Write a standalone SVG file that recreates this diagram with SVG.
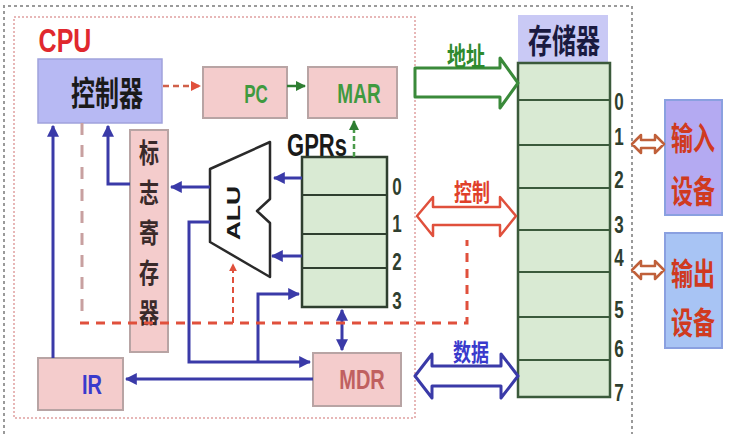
<svg xmlns="http://www.w3.org/2000/svg" width="733" height="434" viewBox="0 0 733 434">
<style>
.cjk{font-family:"Noto Sans CJK SC","Liberation Sans",sans-serif;font-weight:bold;text-anchor:middle}
.lat{font-family:"Liberation Sans",Arial,sans-serif;font-weight:bold;text-anchor:middle}
.pink{fill:#f4cccc;stroke:#b8a4a4;stroke-width:2}
.reg{fill:#d9ead3;stroke:#2f3f2f;stroke-width:2.5}
.mem{fill:#d9ead3;stroke:#3b5a3b;stroke-width:2.5}
.blue{fill:none;stroke:#3a3aa8;stroke-width:3}
.num{font-family:"Liberation Sans",Arial,sans-serif;font-weight:bold;text-anchor:middle;font-size:17px;fill:#2f3f2f}
</style>
<defs>
<marker id="ab" viewBox="0 0 10 10" refX="9" refY="5" markerWidth="4" markerHeight="4" orient="auto-start-reverse"><path d="M0,0 L10,5 L0,10 z" fill="#3a3aa8"/></marker>
<marker id="ar" viewBox="0 0 10 10" refX="9" refY="5" markerWidth="4" markerHeight="4" orient="auto"><path d="M0,0 L10,5 L0,10 z" fill="#e0503c"/></marker>
<marker id="ag" viewBox="0 0 10 10" refX="9" refY="5" markerWidth="4" markerHeight="4" orient="auto"><path d="M0,0 L10,5 L0,10 z" fill="#2e7d32"/></marker>
</defs>
<rect width="733" height="434" fill="#ffffff"/>
<!-- outer dotted frame -->
<path d="M4,434 V6 H632 V434" fill="none" stroke="#9a9a9a" stroke-width="2" stroke-dasharray="3,3"/>
<!-- CPU frame -->
<g id="cpu">
<rect x="14" y="17" width="401" height="401" fill="none" stroke="#e0a0a0" stroke-width="1.5" stroke-dasharray="2,2"/>
<text class="lat" transform="translate(65,52) scale(1,1.35)" font-size="25" fill="#e0282e" font-weight="normal">CPU</text>
</g>
<g id="controller">
<rect x="38" y="59" width="124" height="64" fill="#b7b9f3" stroke="#a0a2dc" stroke-width="1.5"/>
<text class="cjk" transform="translate(107,106) scale(1,1.4)" font-size="24" fill="#1a1a1a">控制器</text>
</g>
<g id="pc">
<rect class="pink" x="203" y="67" width="84" height="51"/>
<text class="lat" transform="translate(256,103) scale(1,1.5)" font-size="17" fill="#3f9a3f">PC</text>
</g>
<g id="mar">
<rect class="pink" x="308" y="67" width="89" height="51"/>
<text class="lat" transform="translate(359,103) scale(1,1.5)" font-size="19" fill="#3f9a3f">MAR</text>
</g>
<g id="flags">
<rect class="pink" x="130" y="130" width="38" height="222"/>
<g class="cjk" font-size="20" fill="#3a2a2a">
<text transform="translate(149,163) scale(1,1.35)">标</text>
<text transform="translate(149,203) scale(1,1.35)">志</text>
<text transform="translate(149,243) scale(1,1.35)">寄</text>
<text transform="translate(149,283) scale(1,1.35)">存</text>
<text transform="translate(149,323) scale(1,1.35)">器</text>
</g>
</g>
<g id="alu">
<path d="M210,169 L270,142 L270,199 L257,211 L270,223 L270,277 L210,242 Z" fill="#ffffff" stroke="#2a2a2a" stroke-width="2.5" stroke-linejoin="round"/>
<text class="lat" transform="translate(240,213) rotate(-90) scale(1.4,1)" font-size="19" fill="#1a1a1a">ALU</text>
</g>
<g id="gprs">
<text class="lat" transform="translate(317,156) scale(1,1.45)" font-size="22" fill="#1a1a1a">GPRs</text>
<rect class="reg" x="302" y="157" width="85" height="150"/>
<path d="M302,195 H387 M302,234 H387 M302,268 H387" stroke="#2f3f2f" stroke-width="2"/>
<text class="num" transform="translate(397,195) scale(1,1.4)">0</text>
<text class="num" transform="translate(397,232) scale(1,1.4)">1</text>
<text class="num" transform="translate(397,270) scale(1,1.4)">2</text>
<text class="num" transform="translate(397,309) scale(1,1.4)">3</text>
</g>
<g id="ir">
<rect class="pink" x="38" y="358" width="85" height="52"/>
<text class="lat" transform="translate(92,394) scale(1,1.4)" font-size="20" fill="#3a3acc">IR</text>
</g>
<g id="mdr">
<rect class="pink" x="313" y="353" width="88" height="53"/>
<text class="lat" transform="translate(362,389) scale(1,1.35)" font-size="20" fill="#c06060" font-weight="normal">MDR</text>
</g>
<g id="memory">
<rect x="518" y="15" width="90" height="48" fill="#c9c9f5"/>
<text class="cjk" transform="translate(564,53) scale(1,1.35)" font-size="24" fill="#1a1a40">存储器</text>
<rect class="mem" x="518" y="63" width="92" height="334"/>
<path d="M518,100 H610 M518,145 H610 M518,188 H610 M518,230 H610 M518,272 H610 M518,317 H610 M518,360 H610" stroke="#3b5a3b" stroke-width="2"/>
<text class="num" transform="translate(619,110) scale(1,1.4)">0</text>
<text class="num" transform="translate(619,145) scale(1,1.4)" fill="#3a9a3a">1</text>
<text class="num" transform="translate(619,188) scale(1,1.4)">2</text>
<text class="num" transform="translate(619,233) scale(1,1.4)">3</text>
<text class="num" transform="translate(619,266) scale(1,1.4)" fill="#3a9a3a">4</text>
<text class="num" transform="translate(619,318) scale(1,1.4)">5</text>
<text class="num" transform="translate(619,357) scale(1,1.4)">6</text>
<text class="num" transform="translate(619,401) scale(1,1.4)">7</text>
</g>
<g id="input">
<rect x="665" y="100" width="57" height="115" fill="#b4aaf2" stroke="#8aa0e0" stroke-width="2"/>
<text class="cjk" transform="translate(693,150) scale(1,1.45)" font-size="22" fill="#d03a20">输入</text>
<text class="cjk" transform="translate(693,203) scale(1,1.45)" font-size="22" fill="#d03a20">设备</text>
</g>
<g id="output">
<rect x="665" y="233" width="57" height="115" fill="#a8c4f4" stroke="#8aa0e0" stroke-width="2"/>
<text class="cjk" transform="translate(693,285) scale(1,1.4)" font-size="22" fill="#d03a20">输出</text>
<text class="cjk" transform="translate(693,334) scale(1,1.4)" font-size="22" fill="#d03a20">设备</text>
</g>
<g id="connectors">
<path d="M163,86 H200" stroke="#d0604a" stroke-width="2.5" stroke-dasharray="6,4" fill="none" marker-end="url(#ar)"/>
<path d="M287,86 H305" stroke="#2e7d32" stroke-width="2.5" fill="none" marker-end="url(#ag)"/>
<path d="M354,157 V121" stroke="#4a9a4a" stroke-width="2.5" stroke-dasharray="5,3" fill="none" marker-end="url(#ag)"/>
<path class="blue" d="M53,358 V126" marker-end="url(#ab)"/>
<path class="blue" d="M130,184 H108 V126" marker-end="url(#ab)"/>
<path class="blue" d="M210,187 H171" marker-end="url(#ab)"/>
<path class="blue" d="M302,178 H274" marker-end="url(#ab)"/>
<path class="blue" d="M302,256 H272" marker-end="url(#ab)"/>
<path class="blue" d="M210,222 H189 V362 H310" marker-end="url(#ab)"/>
<path class="blue" d="M258,362 V294 H299" marker-end="url(#ab)"/>
<path class="blue" d="M342,310 V350" marker-start="url(#ab)" marker-end="url(#ab)"/>
<path class="blue" d="M313,379 H126" marker-end="url(#ab)"/>
<path d="M82,123 V318" stroke="#c8a0a0" stroke-width="3" stroke-dasharray="12,10" fill="none"/>
<path d="M80,323 H467 V240" stroke="#e0503c" stroke-width="3" stroke-dasharray="9,7" fill="none"/>
<path d="M233,323 V264" stroke="#e0503c" stroke-width="2" stroke-dasharray="6,4" fill="none" marker-end="url(#ar)"/>
<!-- address bus -->
<polygon points="415,68 500,68 500,58 518,83 500,108 500,97 415,97" fill="#ffffff" stroke="#3a8a3a" stroke-width="3" stroke-linejoin="round"/>
<text class="cjk" transform="translate(466,66) scale(1,1.35)" font-size="19" fill="#2e8a2e">地址</text>
<!-- control bus -->
<polygon points="417,216 433,197 433,207 500,207 500,197 516,216 500,236 500,225 433,225 433,236" fill="#ffffff" stroke="#e0503c" stroke-width="2.5" stroke-linejoin="round"/>
<text class="cjk" transform="translate(472,201) scale(1,1.35)" font-size="18" fill="#e0402a">控制</text>
<!-- data bus -->
<polygon points="415,376 432,354 432,366 501,366 501,354 518,376 501,398 501,386 432,386 432,398" fill="#ffffff" stroke="#3a3aa8" stroke-width="3" stroke-linejoin="round"/>
<text class="cjk" transform="translate(471,361) scale(1,1.35)" font-size="18" fill="#3a3acc">数据</text>
<!-- device links -->
<polygon points="632,144 641,135 641,140 655,140 655,135 664,144 655,153 655,148 641,148 641,153" fill="#ffffff" stroke="#c0603a" stroke-width="2.5" stroke-linejoin="round"/>
<polygon points="632,270 641,261 641,266 655,266 655,261 664,270 655,279 655,274 641,274 641,279" fill="#ffffff" stroke="#c0603a" stroke-width="2.5" stroke-linejoin="round"/>
</g>
</svg>
